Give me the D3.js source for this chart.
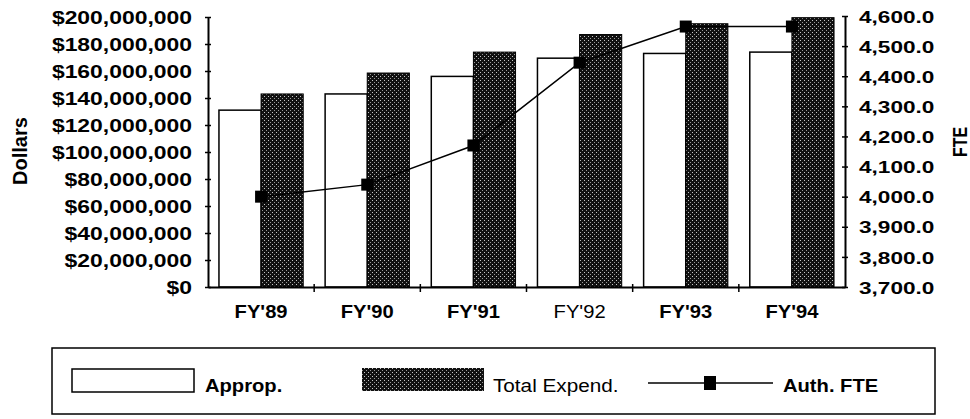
<!DOCTYPE html>
<html>
<head>
<meta charset="utf-8">
<script src="https://cdn.jsdelivr.net/npm/d3@7"></script>
<style>
  html, body { margin: 0; padding: 0; background: #fff; }
  svg { display: block; }
  text { font-family: "Liberation Sans", Arial, Helvetica, sans-serif; fill: #000; }
</style>
</head>
<body>
<svg id="chart" width="970" height="419"></svg>
<script>
// Fiscal years on the category axis
const categories = ["FY'89", "FY'90", "FY'91", "FY'92", "FY'93", "FY'94"];
// Appropriations and total expenditures, in dollars
const approp = [131000000, 143000000, 156000000, 169500000, 173000000, 174000000];
const totalExpend = [143000000, 158500000, 174000000, 187000000, 195000000, 199500000];
// Authorized full-time equivalents
const authFTE = [4000, 4040, 4170, 4445, 4565, 4565];
// Axis tick values
const dollarTicks = [0, 20e6, 40e6, 60e6, 80e6, 100e6, 120e6, 140e6, 160e6, 180e6, 200e6];
const fteTicks = [3700, 3800, 3900, 4000, 4100, 4200, 4300, 4400, 4500, 4600];
const boldCategory = [true, true, true, false, true, true];

const svg = d3.select("#chart");

// Stipple fill for the expenditure bars
const defs = svg.append("defs");
const pat = defs.append("pattern")
  .attr("id", "stipple").attr("patternUnits", "userSpaceOnUse")
  .attr("width", 4).attr("height", 4);
pat.append("rect").attr("width", 4).attr("height", 4).attr("fill", "#111");
pat.append("rect").attr("x", 0).attr("y", 0).attr("width", 1).attr("height", 1).attr("fill", "#c8c8c8");
pat.append("rect").attr("x", 2).attr("y", 2).attr("width", 1).attr("height", 1).attr("fill", "#9a9a9a");

const plotLeft = 208, plotRight = 845, plotTop = 17, plotBottom = 287;

const x = d3.scaleBand().domain(categories).range([plotLeft, plotRight]).paddingInner(0).paddingOuter(0);
const xs = d3.scaleBand().domain(["approp", "expend"]).range([0, x.bandwidth()])
  .paddingInner(0).paddingOuter(0.26);
const yL = d3.scaleLinear().domain([0, 200e6]).range([plotBottom, plotTop]);
const yR = d3.scaleLinear().domain([3700, 4600]).range([plotBottom, plotTop - 1]);

// Bars
const g = svg.append("g");
g.selectAll("rect.approp").data(categories).join("rect")
  .attr("class", "approp")
  .attr("x", (d) => x(d) + xs("approp"))
  .attr("y", (d, i) => yL(approp[i]))
  .attr("width", xs.bandwidth())
  .attr("height", (d, i) => plotBottom - yL(approp[i]))
  .attr("fill", "#fff").attr("stroke", "#000").attr("stroke-width", 1.5);

g.selectAll("rect.expend").data(categories).join("rect")
  .attr("class", "expend")
  .attr("x", (d) => x(d) + xs("expend"))
  .attr("y", (d, i) => yL(totalExpend[i]))
  .attr("width", xs.bandwidth())
  .attr("height", (d, i) => plotBottom - yL(totalExpend[i]))
  .attr("fill", "url(#stipple)").attr("stroke", "#000").attr("stroke-width", 1);

// FTE line with square markers
const lineGen = d3.line()
  .x((d, i) => x(categories[i]) + x.bandwidth() / 2)
  .y((d) => yR(d));
g.append("path").datum(authFTE).attr("d", lineGen)
  .attr("fill", "none").attr("stroke", "#000").attr("stroke-width", 1.5);
const ms = 12;
g.selectAll("rect.fte").data(authFTE).join("rect")
  .attr("class", "fte")
  .attr("x", (d, i) => x(categories[i]) + x.bandwidth() / 2 - ms / 2)
  .attr("y", (d) => yR(d) - ms / 2)
  .attr("width", ms).attr("height", ms).attr("fill", "#000");

// Left axis
const fmtDollar = (v) => "$" + d3.format(",")(v);
const axL = svg.append("g").attr("transform", `translate(${plotLeft},0)`)
  .call(d3.axisLeft(yL).tickValues(dollarTicks).tickFormat(fmtDollar).tickSizeOuter(0).tickSizeInner(3));
axL.select(".domain").attr("stroke-width", 2);
axL.selectAll(".tick line").attr("x1", -3).attr("x2", 3).attr("stroke-width", 1.5);
axL.selectAll(".tick text")
  .attr("x", null).attr("dy", "0.36em")
  .attr("transform", "translate(-16,0) scale(1.31,1)")
  .style("font-size", "17.5px").style("font-weight", "bold");

// Right axis
const axR = svg.append("g").attr("transform", `translate(${plotRight},0)`)
  .call(d3.axisRight(yR).tickValues(fteTicks).tickFormat(d3.format(",.1f")).tickSizeOuter(0).tickSizeInner(3));
axR.select(".domain").attr("stroke-width", 2);
axR.selectAll(".tick line").attr("x1", -3).attr("x2", 3).attr("stroke-width", 1.5);
axR.selectAll(".tick text")
  .attr("x", null).attr("dy", "0.36em")
  .attr("transform", "translate(14,0) scale(1.33,1)")
  .style("font-size", "17px").style("font-weight", "bold");

// Bottom axis: baseline, category separators and labels
const axB = svg.append("g").attr("transform", `translate(0,${plotBottom})`)
  .call(d3.axisBottom(x).tickSize(0).tickSizeOuter(0));
axB.select(".domain").attr("stroke-width", 2);
axB.selectAll(".tick text")
  .attr("y", null).attr("dy", null)
  .attr("transform", "translate(0,31) scale(1.12,1)")
  .style("font-size", "18px")
  .style("font-weight", (d, i) => boldCategory[i] ? "bold" : "normal");
axB.selectAll("line.sep").data(categories.slice(1)).join("line")
  .attr("class", "sep")
  .attr("x1", (d) => x(d)).attr("x2", (d) => x(d))
  .attr("y1", -3).attr("y2", 5)
  .attr("stroke", "#000").attr("stroke-width", 1.5);

// Axis titles
svg.append("text")
  .attr("transform", "translate(27,151) rotate(-90)")
  .attr("text-anchor", "middle")
  .style("font-size", "20px").style("font-weight", "bold")
  .text("Dollars");
svg.append("text")
  .attr("transform", "translate(967,142) rotate(-90) scale(1,1.3)")
  .attr("text-anchor", "middle")
  .style("font-size", "16px").style("font-weight", "bold")
  .text("FTE");

// Legend
const lg = svg.append("g");
lg.append("rect").attr("x", 52).attr("y", 348).attr("width", 883).attr("height", 66)
  .attr("fill", "none").attr("stroke", "#000").attr("stroke-width", 1.5);
lg.append("rect").attr("x", 72).attr("y", 369).attr("width", 122).attr("height", 23)
  .attr("fill", "#fff").attr("stroke", "#000").attr("stroke-width", 1.5);
lg.append("text").attr("transform", "translate(205,392) scale(1.12,1)")
  .style("font-size", "18px").style("font-weight", "bold").text("Approp.");
lg.append("rect").attr("x", 362).attr("y", 368).attr("width", 122).attr("height", 23)
  .attr("fill", "url(#stipple)");
lg.append("text").attr("transform", "translate(493,392) scale(1.12,1)")
  .style("font-size", "18.5px").style("font-weight", "normal").text("Total Expend.");
lg.append("line").attr("x1", 648).attr("x2", 773).attr("y1", 383).attr("y2", 383)
  .attr("stroke", "#000").attr("stroke-width", 1.5);
lg.append("rect").attr("x", 704).attr("y", 376).attr("width", 12).attr("height", 14).attr("fill", "#000");
lg.append("text").attr("transform", "translate(783,392) scale(1.12,1)")
  .style("font-size", "18px").style("font-weight", "bold").text("Auth. FTE");
</script>
</body>
</html>
